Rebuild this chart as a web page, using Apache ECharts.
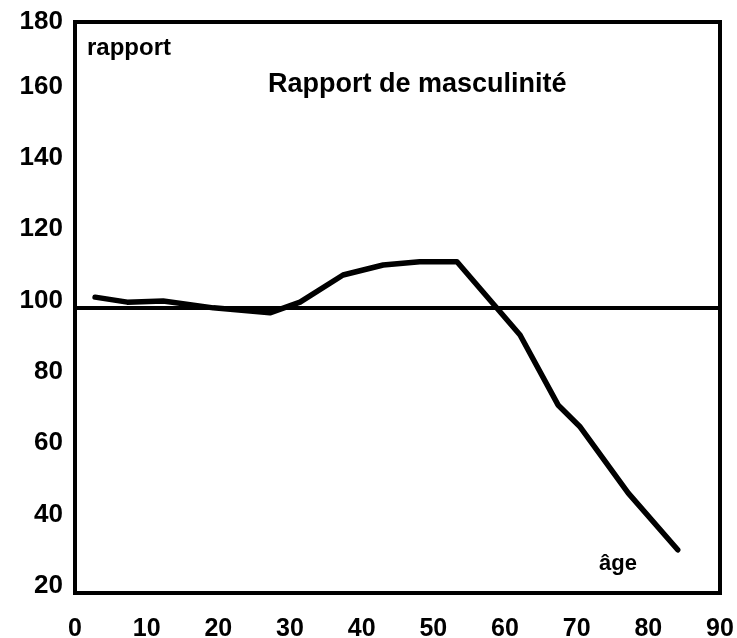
<!DOCTYPE html>
<html>
<head>
<meta charset="utf-8">
<script src="https://cdn.jsdelivr.net/npm/echarts@6/dist/echarts.min.js"></script>
<style>
  html, body { margin: 0; padding: 0; background: #fff; }
  #chart { width: 737px; height: 638px; }
</style>
</head>
<body>
<div id="chart"></div>
<script>
// Rapport de masculinité par âge (hommes pour 100 femmes)
const ages   = [2.8, 7.3, 12.3, 19.3, 27.2, 31.4, 37.4, 43.0, 48.1, 53.3, 62.1, 67.4, 70.5, 77.2, 84.1];
const ratios = [102.9, 101.5, 101.8, 99.9, 98.5, 101.5, 109.1, 111.9, 112.8, 112.8, 92.3, 72.7, 66.5, 48.0, 32.1];
const referenceRatio = 100;
const xTicks = [0, 10, 20, 30, 40, 50, 60, 70, 80, 90];
const yTicks = [20, 40, 60, 80, 100, 120, 140, 160, 180];

const FONT = '"Liberation Sans", Arial, Helvetica, sans-serif';
const chart = echarts.init(document.getElementById('chart'), null, { renderer: 'canvas' });

chart.setOption({
  backgroundColor: '#ffffff',
  animation: false,
  grid: {
    left: 75, right: 17, top: 22, bottom: 45,
    containLabel: false,
    outerBoundsMode: 'none',
    show: true, borderColor: '#000', borderWidth: 4, backgroundColor: 'transparent'
  },
  xAxis: {
    type: 'value',
    min: xTicks[0], max: xTicks[xTicks.length - 1], interval: 10,
    axisLine: { show: false },
    axisTick: { show: false },
    splitLine: { show: false },
    axisLabel: {
      margin: 24, color: '#000', fontFamily: FONT, fontWeight: 'bold', fontSize: 25,
      formatter: v => (xTicks.indexOf(v) >= 0 ? String(v) : '')
    }
  },
  yAxis: {
    type: 'value',
    min: yTicks[0], max: yTicks[yTicks.length - 1], interval: 20,
    axisLine: { show: false },
    axisTick: { show: false },
    splitLine: { show: false },
    axisLabel: {
      margin: 12, color: '#000', fontFamily: FONT, fontWeight: 'bold', fontSize: 26,
      formatter: v => (v === yTicks[yTicks.length - 1] ? '{top|' + v + '}' : '{n|' + v + '}'),
      rich: {
        top: { fontFamily: FONT, fontWeight: 'bold', fontSize: 26, color: '#000' },
        n: { fontFamily: FONT, fontWeight: 'bold', fontSize: 26, color: '#000', padding: [0, 0, 14, 0] }
      }
    }
  },
  series: [{
    type: 'line',
    data: ages.map((a, i) => [a, ratios[i]]),
    showSymbol: false,
    symbol: 'none',
    lineStyle: { color: '#000', width: 5.5, join: 'round', cap: 'round' },
    markLine: {
      silent: true,
      symbol: ['none', 'none'],
      label: { show: false },
      lineStyle: { color: '#000', width: 4, type: 'solid' },
      data: [{ yAxis: referenceRatio }]
    }
  }],
  graphic: [
    {
      type: 'text', left: 87, top: 36,
      style: { text: 'rapport', fill: '#000', font: 'bold 24px ' + FONT }
    },
    {
      type: 'text', left: 268, top: 71,
      style: { text: 'Rapport de masculinité', fill: '#000', font: 'bold 27px ' + FONT }
    },
    {
      type: 'text', left: 599, top: 553,
      style: { text: 'âge', fill: '#000', font: 'bold 22px ' + FONT }
    }
  ]
});
</script>
</body>
</html>
